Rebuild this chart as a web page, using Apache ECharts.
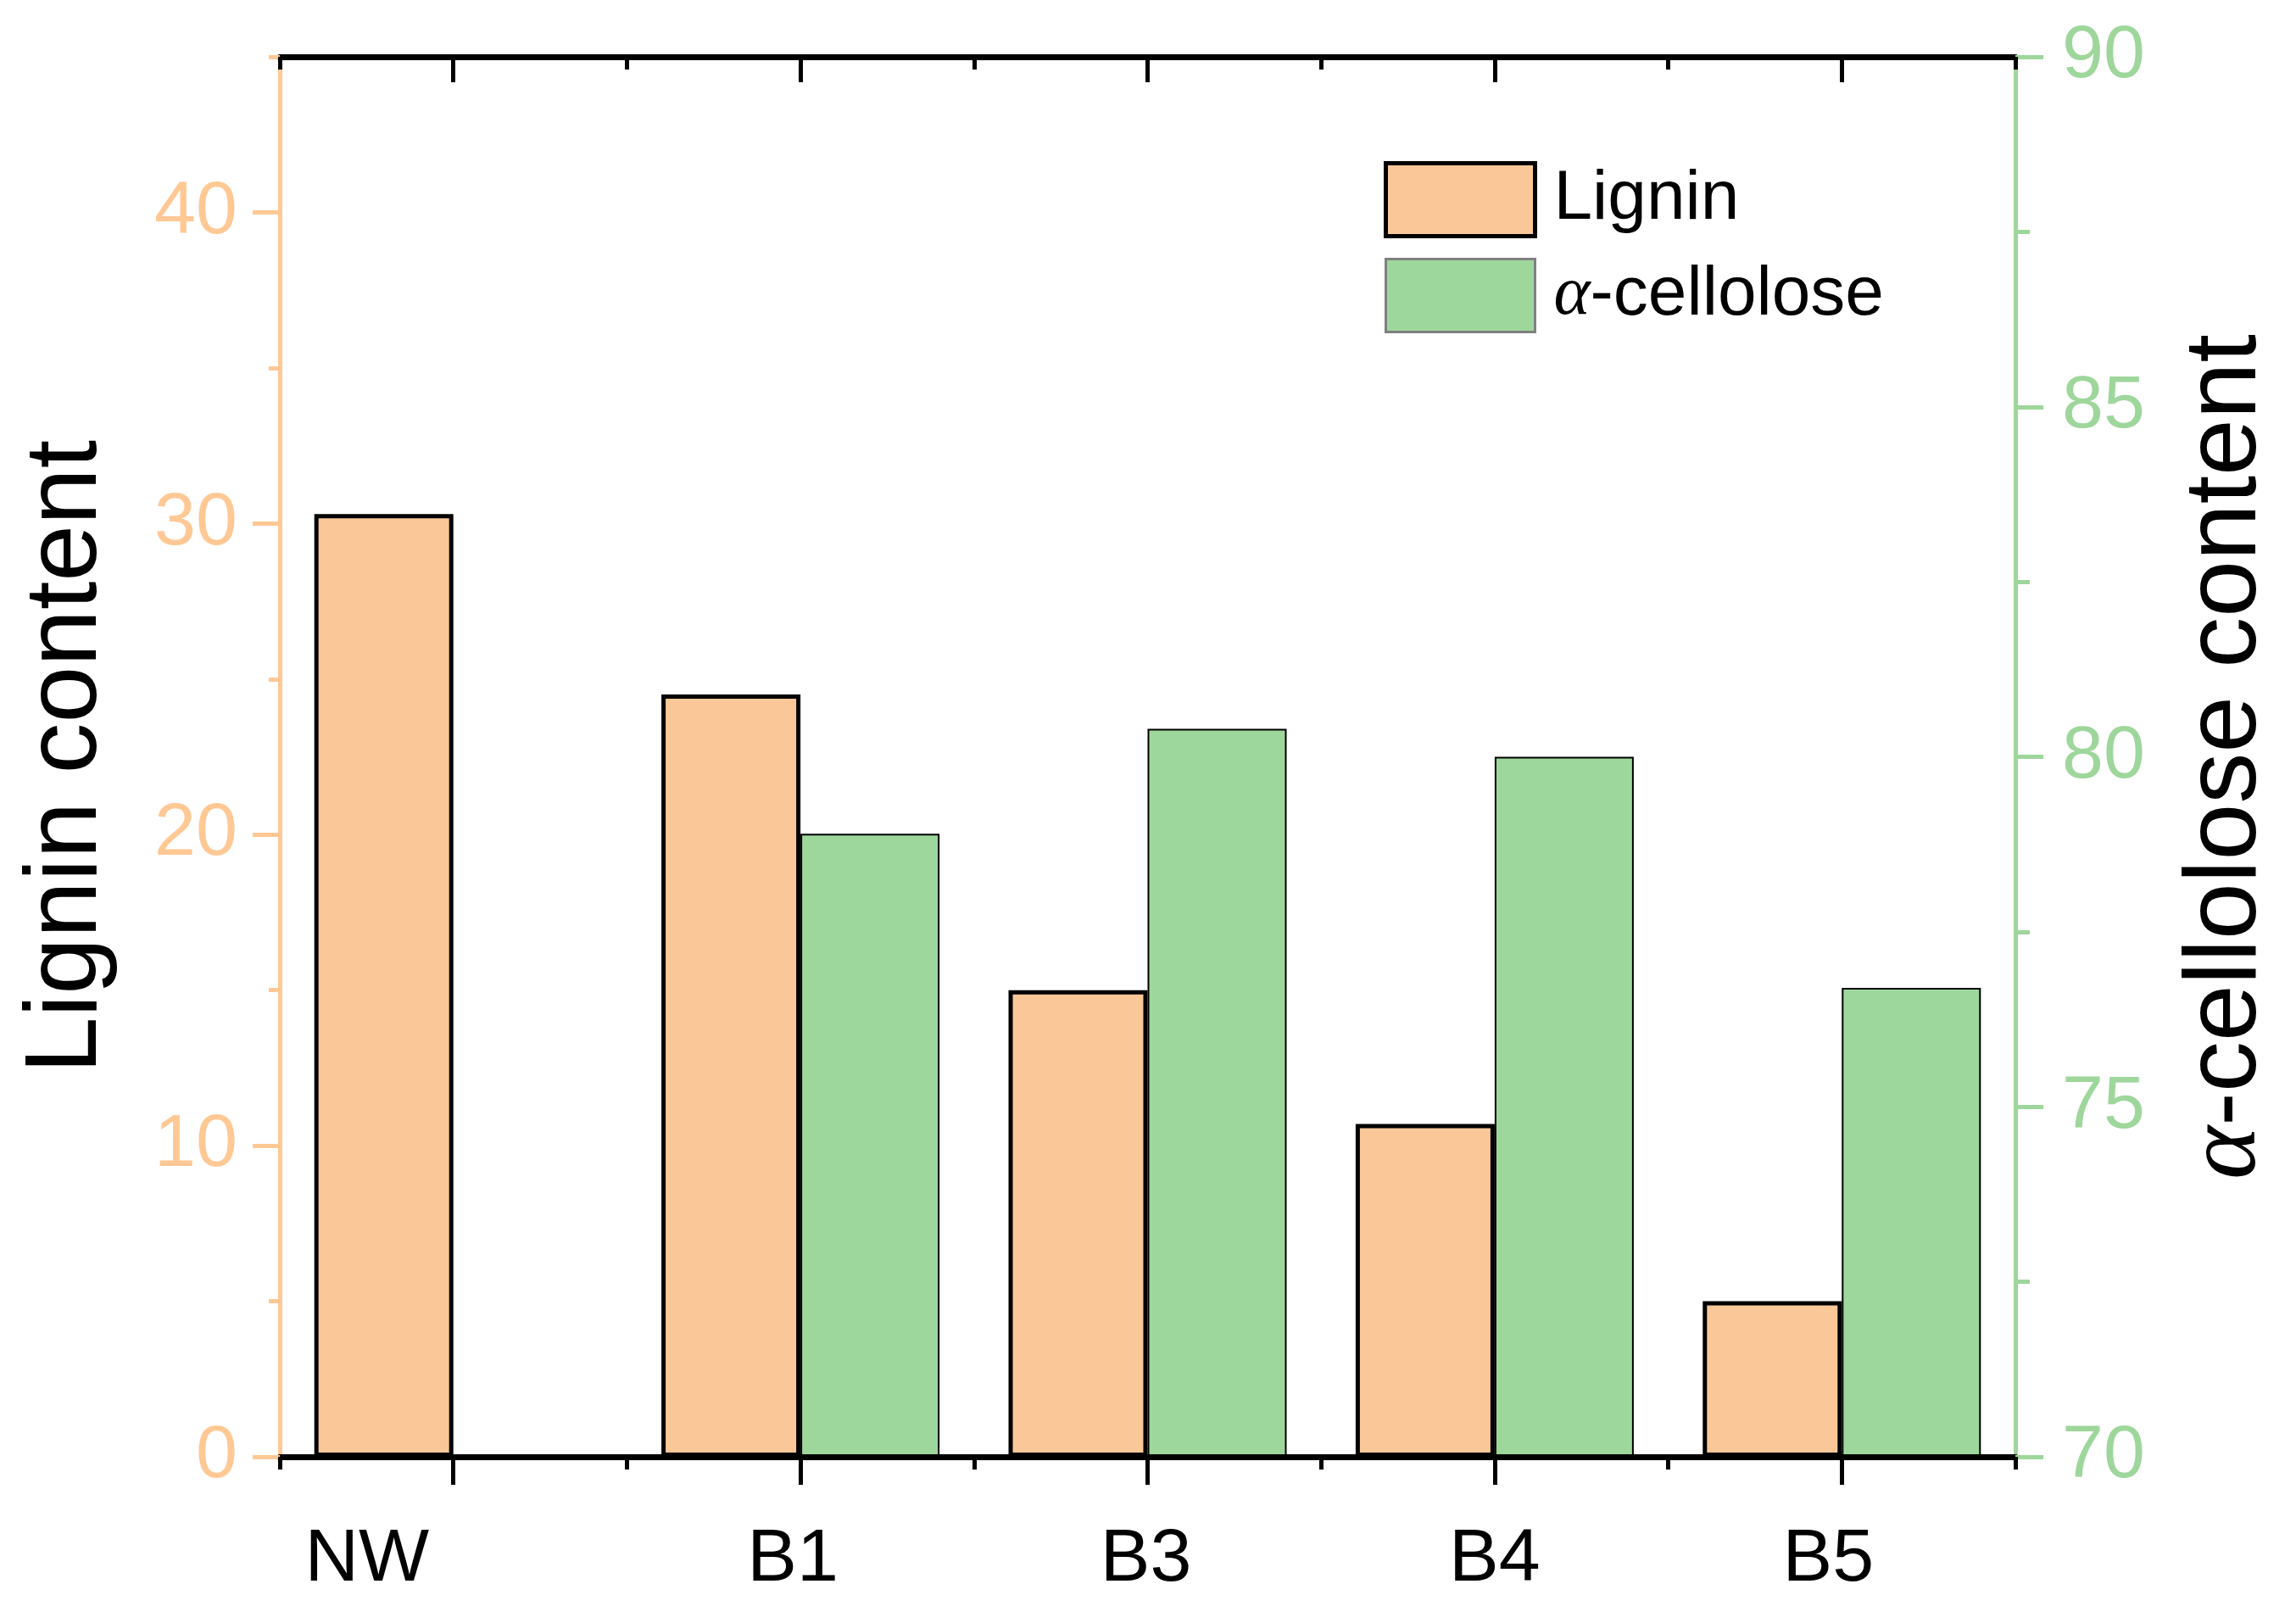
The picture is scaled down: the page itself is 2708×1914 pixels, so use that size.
<!DOCTYPE html>
<html><head><meta charset="utf-8">
<script src="https://cdn.jsdelivr.net/npm/echarts@6/dist/echarts.min.js"></script>
<style>html,body{margin:0;padding:0;background:#fff}#c{width:2708px;height:1914px}</style>
</head><body><div id="c"></div>
<script>
const categories = ['NW', 'B1', 'B3', 'B4', 'B5'];
const lignin = [30.3, 24.5, 15.0, 10.7, 5.0];
const cellulose = [null, 78.9, 80.4, 80.0, 76.7];
const leftMajorTicks = [0, 10, 20, 30, 40];
const leftMinorTicks = [5, 15, 25, 35, 45];

const FONT = '"Liberation Sans", Arial, sans-serif';
const SERIF = '"Liberation Serif", "Times New Roman", serif';
const ORANGE = '#FFC894';
const GREEN = '#9ED69B';

const chart = echarts.init(document.getElementById('c'), null, {renderer: 'canvas'});
const labelShift = [204, 18, 4, 0, 32];
const xCat = categories.map((c, i) => ({value: c, textStyle: {padding: [0, labelShift[i], 0, 0]}}));

const option = {
  animation: false,
  backgroundColor: '#fff',
  grid: {left: 330, right: 331, top: 67, bottom: 196, containLabel: false, outerBoundsMode: 'none'},
  legend: {
    orient: 'vertical', left: 1632, top: 190, padding: 0,
    itemWidth: 176, itemHeight: 86, itemGap: 23, icon: 'rect',
    data: [
      {name: 'Lignin', itemStyle: {borderColor: '#000', borderWidth: 5}},
      {name: 'α-cellolose', itemStyle: {borderColor: '#808080', borderWidth: 3}}
    ],
    formatter: n => n === 'α-cellolose' ? '{a|α}-cellolose' : n,
    textStyle: {
      fontSize: 82, fontFamily: FONT, color: '#000', padding: [0, 0, 0, 17],
      rich: {a: {fontSize: 82, fontFamily: SERIF, fontStyle: 'italic', color: '#000'}}
    }
  },
  xAxis: [
    {type: 'category', position: 'bottom', data: xCat, z: 5,
     axisLine: {show: true, lineStyle: {color: '#000', width: 7}},
     axisTick: {show: true, alignWithLabel: true, length: 33, lineStyle: {width: 5, color: '#000'}},
     axisLabel: {fontSize: 88, color: '#000', fontFamily: FONT, margin: 78},
     splitLine: {show: false}},
    {type: 'category', position: 'bottom', data: categories, z: 5,
     axisLine: {show: false},
     axisTick: {show: true, alignWithLabel: false, length: 15, lineStyle: {width: 5, color: '#000'}},
     axisLabel: {show: false}, splitLine: {show: false}},
    {type: 'category', position: 'top', data: categories, z: 5,
     axisLine: {show: true, lineStyle: {color: '#000', width: 7}},
     axisTick: {show: true, inside: true, alignWithLabel: true, length: 30, lineStyle: {width: 5, color: '#000'}},
     axisLabel: {show: false}, splitLine: {show: false}},
    {type: 'category', position: 'top', data: categories, z: 5,
     axisLine: {show: false},
     axisTick: {show: true, inside: true, alignWithLabel: false, length: 15, lineStyle: {width: 5, color: '#000'}},
     axisLabel: {show: false}, splitLine: {show: false}}
  ],
  yAxis: [
    {type: 'value', position: 'left', min: 0, max: 45, interval: 5, z: 5,
     axisLine: {show: true, lineStyle: {color: ORANGE, width: 5}},
     axisTick: {show: true, length: 32, customValues: leftMajorTicks, lineStyle: {color: ORANGE, width: 5}},
     axisLabel: {customValues: leftMajorTicks, fontSize: 88, color: ORANGE, fontFamily: FONT, margin: 50},
     splitLine: {show: false},
     name: 'Lignin content', nameLocation: 'middle', nameRotate: 90, nameGap: 190,
     nameTextStyle: {fontSize: 120, color: '#000', fontFamily: FONT}},
    {type: 'value', position: 'left', min: 0, max: 45, interval: 5, z: 5,
     axisLine: {show: false},
     axisTick: {show: true, length: 13, customValues: leftMinorTicks, lineStyle: {color: ORANGE, width: 5}},
     axisLabel: {show: false}, splitLine: {show: false}},
    {type: 'value', position: 'right', min: 70, max: 90, interval: 5, startValue: 70, z: 5,
     axisLine: {show: true, lineStyle: {color: GREEN, width: 5}},
     axisTick: {show: true, length: 33, lineStyle: {color: GREEN, width: 5}},
     minorTick: {show: true, splitNumber: 2, length: 17, lineStyle: {color: GREEN, width: 5}},
     axisLabel: {fontSize: 88, color: GREEN, fontFamily: FONT, margin: 55},
     splitLine: {show: false}, minorSplitLine: {show: false},
     name: '{a|α}-cellolose content', nameLocation: 'middle', nameRotate: 90, nameGap: 190,
     nameTextStyle: {fontSize: 120, color: '#000', fontFamily: FONT,
       rich: {a: {fontSize: 120, fontFamily: SERIF, fontStyle: 'italic', color: '#000'}}}}
  ],
  series: [
    {name: 'Lignin', type: 'bar', xAxisIndex: 0, yAxisIndex: 0, data: lignin,
     barWidth: 164, barGap: '0%',
     itemStyle: {color: '#FAC898', borderColor: '#000', borderWidth: 5}},
    {name: 'α-cellolose', type: 'bar', xAxisIndex: 0, yAxisIndex: 2, data: cellulose,
     barWidth: 164, barGap: '0%',
     itemStyle: {color: '#9ED79C', borderColor: '#000', borderWidth: 2}}
  ]
};
chart.setOption(option);
</script>
</body></html>
